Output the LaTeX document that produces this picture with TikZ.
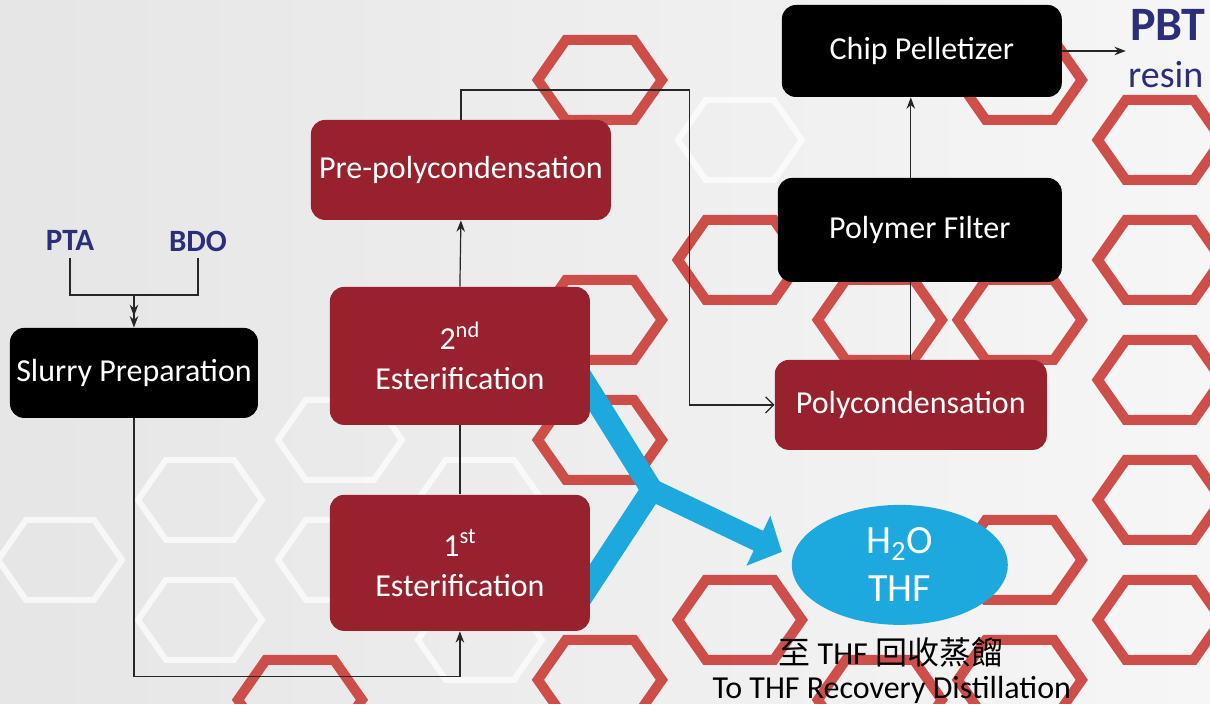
\documentclass[tikz,border=0pt]{standalone}
\usepackage{fontspec}
\setmainfont{Carlito}
\newfontfamily\cjk{Noto Sans CJK TC}
\usetikzlibrary{arrows.meta,shapes.geometric}
\definecolor{boxred}{HTML}{97222E}
\definecolor{inkblue}{HTML}{2B2F7A}
\definecolor{waterblue}{HTML}{1DA9DD}
\definecolor{hexred}{HTML}{C8322D}
\begin{document}
\begin{tikzpicture}[x=0.5pt, y=-0.5pt, >=Stealth,
		every node/.style={font=\fontsize{16}{20}\selectfont},
		blackbox/.style={fill=black, text=white, rounded corners=7pt, inner sep=0pt},
		redbox/.style={fill=boxred, text=white, rounded corners=7pt, inner sep=0pt, align=center},
		feed/.style={text=inkblue, font=\fontsize{15.5}{17}\selectfont\bfseries},
		flow/.style={draw=black!85, line width=0.6pt},
		hexcell/.style={draw=hexred, line width=5pt, line join=miter, opacity=0.85},
		paler/.style={draw=white, line width=3pt, line join=miter, opacity=0.7},
		vapour/.style={draw=waterblue, line width=11pt, line join=round}]
		% background and hexagon pattern
		\shade[left color=gray!20, right color=gray!7] (0,0) rectangle (1210,704);
		\begin{scope}
			\clip (0,0) rectangle (1210,704);
			\foreach \cx/\cy in {200/500, 340/440, 200/620, 340/560, 480/500, 60/560, 480/640, 740/140, 880/560} {
				\draw[paler] (\cx,\cy) ++(-62,0) -- ++(28,-40) -- ++(68,0) -- ++(28,40) -- ++(-28,40) -- ++(-68,0) -- cycle;
			}
			\foreach \cx/\cy in {600/80, 600/320, 600/440, 600/680, 740/260, 740/620, 880/320, 880/700, 1020/80, 1020/320, 1020/560, 1160/140, 1160/260, 1160/380, 1160/500, 1160/620, 300/700, 1020/680} {
				\draw[hexcell] (\cx,\cy) ++(-62,0) -- ++(28,-40) -- ++(68,0) -- ++(28,40) -- ++(-28,40) -- ++(-68,0) -- cycle;
			}
		\end{scope}
		% vapour stream
		\coordinate (vsplit) at (652,490);
		\coordinate (vtip) at (782,552);
		\draw[vapour] (572,362) -- (vsplit) -- (572,612);
		\draw[vapour, -{Triangle[length=13pt,width=27pt]}] (vsplit) -- (vtip);
		% process units
		\node[blackbox, minimum width=140pt, minimum height=46pt] (pellet) at (922,51) {Chip Pelletizer};
		\node[redbox, minimum width=150pt, minimum height=50pt] (prepoly) at (461,170) {Pre-polycondensation};
		\node[blackbox, minimum width=142pt, minimum height=52pt] (filter) at (920,230) {Polymer Filter};
		\node[blackbox, minimum width=124pt, minimum height=45pt] (slurry) at (134,373) {Slurry Preparation};
		\node[redbox, minimum width=130pt, minimum height=69pt] (ester2) at (460,356) {2\textsuperscript{nd}\\Esterification};
		\node[redbox, minimum width=136pt, minimum height=45pt] (poly) at (911,405) {Polycondensation};
		\node[redbox, minimum width=130pt, minimum height=68pt] (ester1) at (460,563) {1\textsuperscript{st}\\Esterification};
		\node[ellipse, fill=waterblue, text=white, minimum width=108pt, minimum height=60pt, inner sep=0pt, align=center, font=\fontsize{20}{24}\selectfont] (waste) at (900,565) {H\textsubscript{2}O\\THF};
		% feeds and products
		\node[feed] (pta) at (70,241) {PTA};
		\node[feed] (bdo) at (198,241) {BDO};
		\node[text=inkblue, font=\fontsize{24}{26}\selectfont\bfseries, inner sep=2pt] (pbt) at (1168,25) {PBT};
		\node[text=inkblue, font=\fontsize{19}{21}\selectfont] (resin) at (1166,75) {resin};
		\node[font=\fontsize{16}{18}\selectfont] (dest) at (891,652) {{\cjk 至} THF {\cjk 回收蒸餾}};
		\node[font=\fontsize{16}{18}\selectfont] (destEn) at (892,690) {To THF Recovery Distillation};
		% connections
		\coordinate (feedjoin) at (134,295);
		\coordinate (loopturn) at (690,90);
		\draw[flow] (pta.south) |- (feedjoin);
		\draw[flow] (bdo.south) |- (feedjoin);
		\draw[flow, ->>] (feedjoin) -- (slurry.north);
		\draw[flow, ->] (slurry.south) -- ++(0,258) -| (ester1.south);
		\draw[flow] (ester1.north) -- (ester2.south);
		\draw[flow, ->] (ester2.north) -- (prepoly.south);
		\draw[flow, -{Straight Barb[length=4pt,width=8pt]}] (prepoly.north) |- (loopturn) |- (poly.west);
		\draw[flow] (poly.north) -- (poly.north |- filter.south);
		\draw[flow, ->] (poly.north |- filter.north) -- (poly.north |- pellet.south);
		\draw[flow, ->] (pellet.east) -- (pbt.west |- pellet.east);
	\end{tikzpicture}
\end{document}
